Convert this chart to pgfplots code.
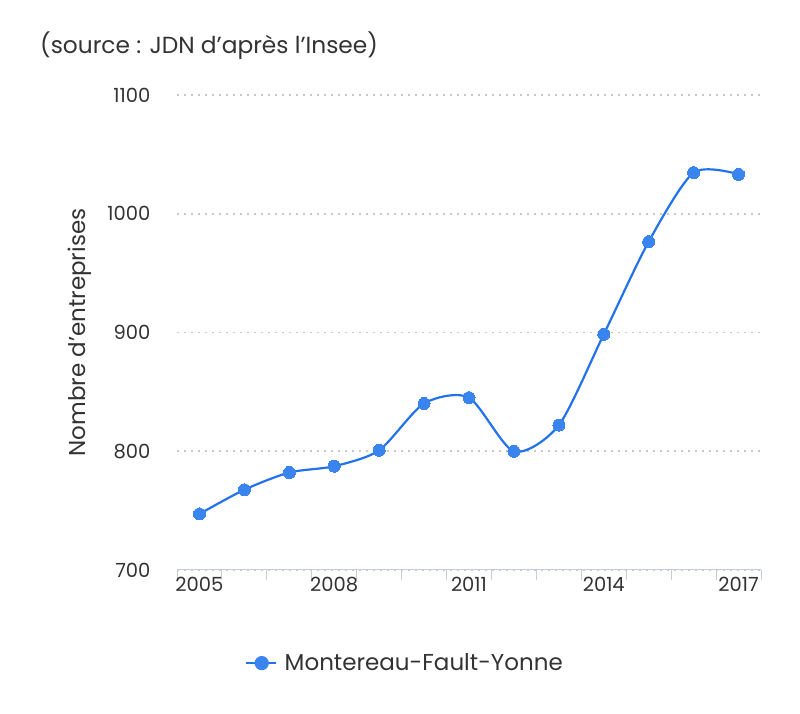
\documentclass[border=0pt]{standalone}
\usepackage{pgfplots}
\pgfplotsset{compat=1.18}
\usepackage{fontspec}
\setmainfont{Poppins}
\definecolor{txt}{HTML}{333333}
\definecolor{axc}{HTML}{C4CEE0}
\definecolor{gridc}{HTML}{C8C8C8}
\definecolor{ser}{HTML}{2272EC}
\definecolor{mk}{HTML}{3A84F0}
\begin{document}
\begin{tikzpicture}[x=1pt,y=1pt]
\path[use as bounding box] (0,0) rectangle (800,714);
\node[anchor=base west, font=\fontsize{23.3}{26}\selectfont, text=txt, inner sep=0] at (40,660) {(source : JDN d’après l’Insee)};
\begin{axis}[
  at={(177pt,144pt)}, anchor=south west,
  scale only axis, width=584pt, height=475pt,
  xmin=2004.5, xmax=2017.5, ymin=700, ymax=1100,
  xtick={2005,2008,2011,2014,2017},
  xticklabels={2005,2008,2011,2014,2017},
  minor xtick={2004.5,2005.5,...,2017.5},
  ytick={700,800,900,1000,1100},
  major tick length=0pt,
  minor tick length=10pt,
  tick align=outside,
  minor tick style={axc, line width=1pt},
  xtick pos=bottom, ytick pos=left,
  axis x line*=bottom,
  axis y line*=left,
  y axis line style={draw=none},
  x axis line style={axc, line width=1pt, -},
  ymajorgrids,
  major grid style={gridc, line width=1.6pt, dash pattern=on 1.6pt off 5.4pt},
  /pgf/number format/assume math mode=true,
  /pgf/number format/set thousands separator={},
  tick label style={font=\fontsize{19.5}{22}\selectfont, text=txt},
  xticklabel style={yshift=-4pt},
  yticklabel style={xshift=-23pt},
  ylabel={Nombre d’entreprises},
  every axis y label/.style={at={(axis description cs:-0.166,0.5)}, rotate=90, anchor=center, font=\fontsize{23}{26}\selectfont, text=txt},
  legend style={at={(axis description cs:0.39,-0.196)}, anchor=center, draw=none, fill=none, font=\fontsize{23}{26}\selectfont, text=txt},
  legend image code/.code={\draw[#1, line width=2pt] (0pt,0pt) -- (30pt,0pt); \fill[mk] (16pt,0pt) circle (6pt);},
  legend cell align=left,
  clip=false,
]
\addplot[ser, line width=2.2pt, smooth, tension=0.45, mark=*, mark size=6pt, mark options={fill=mk, draw=mk, line width=0pt}] coordinates {
(2005,747.2) (2006,767.6) (2007,782.1) (2008,787.4) (2009,800.8) (2010,840.2) (2011,845.1) (2012,799.9) (2013,822) (2014,898.5) (2015,976.5) (2016,1034.6) (2017,1033.2)
};
\addlegendentry{\hspace{6pt}Montereau-Fault-Yonne}
\end{axis}
\end{tikzpicture}
\end{document}
